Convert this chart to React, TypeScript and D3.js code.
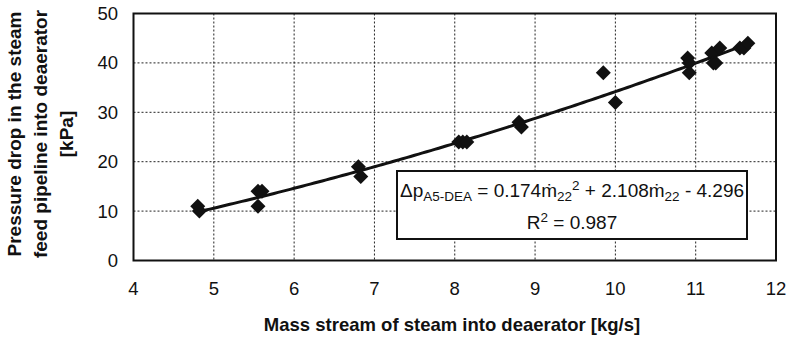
import React from "react";
import * as d3 from "d3";

// ---- Data ----
const massFlow = [
  4.8, 4.82, 5.55, 5.6, 5.55, 6.8, 6.83, 8.05, 8.1, 8.15, 8.8, 8.83,
  9.85, 10.0, 10.9, 10.92, 10.92, 11.2, 11.22, 11.25, 11.3, 11.55, 11.6, 11.65,
];
const pressureDrop = [
  11, 10, 14, 14, 11, 19, 17, 24, 24, 24, 28, 27,
  38, 32, 41, 40, 38, 42, 40, 40, 43, 43, 43, 44,
];
// quadratic trendline coefficients: a*x^2 + b*x + c
const trendCoefs = [0.174, 2.108, -4.296];
const xTicks = [4, 5, 6, 7, 8, 9, 10, 11, 12];
const yTicks = [0, 10, 20, 30, 40, 50];
const yTitleLines = [
  "Pressure drop in the steam",
  "feed pipeline into deaerator",
  "[kPa]",
];
const xTitle = "Mass stream of steam into deaerator [kg/s]";

const W = 791;
const H = 340;
const FONT = "'Liberation Sans', Arial, Helvetica, sans-serif";

export default function App() {
  const x = d3.scaleLinear().domain([4, 12]).range([133.5, 776]);
  const y = d3.scaleLinear().domain([0, 50]).range([260.5, 13.5]);

  const pts = massFlow.map((m, i) => ({ m, p: pressureDrop[i] }));
  const xmin = d3.min(massFlow) as number;
  const xmax = d3.max(massFlow) as number;
  const [a, b, c] = trendCoefs;
  const trend = d3
    .range(xmin, xmax, 0.05)
    .concat([xmax])
    .map((v) => [v, a * v * v + b * v + c] as [number, number]);
  const lineGen = d3
    .line<[number, number]>()
    .x((d) => x(d[0]))
    .y((d) => y(d[1]));

  const [x0, x1] = x.range();
  const [yb, yt] = y.range();
  const diamond = "M0,-7.5L7.5,0L0,7.5L-7.5,0Z";

  return (
    <svg
      width={W}
      height={H}
      style={{ position: "absolute", left: 0, top: 0, background: "#fff" }}
      fontFamily={FONT}
    >
      <rect x={0} y={0} width={W} height={H} fill="#fff" />
      {/* grid */}
      {xTicks.slice(1, -1).map((t) => (
        <line
          key={"gx" + t}
          x1={x(t)}
          x2={x(t)}
          y1={yt}
          y2={yb}
          stroke="#222"
          strokeWidth={1}
          strokeDasharray="2,2"
        />
      ))}
      {yTicks.slice(1, -1).map((t) => (
        <line
          key={"gy" + t}
          x1={x0}
          x2={x1}
          y1={y(t)}
          y2={y(t)}
          stroke="#222"
          strokeWidth={1}
          strokeDasharray="2,2"
        />
      ))}
      {/* equation box */}
      <rect x={397} y={171} width={350} height={68} fill="#fff" stroke="#111" strokeWidth={2} />
      <text x={572} y={197} textAnchor="middle" fontSize={19} fill="#111">
        <tspan>Δp</tspan>
        <tspan fontSize={13.5} dy={4}>A5-DEA</tspan>
        <tspan dy={-4}> = 0.174ṁ</tspan>
        <tspan fontSize={13.5} dy={4}>22</tspan>
        <tspan fontSize={13.5} dy={-11}>2</tspan>
        <tspan dy={7}> + 2.108ṁ</tspan>
        <tspan fontSize={13.5} dy={4}>22</tspan>
        <tspan dy={-4}> - 4.296</tspan>
      </text>
      <text x={572} y={229} textAnchor="middle" fontSize={19} fill="#111">
        <tspan>R</tspan>
        <tspan fontSize={13.5} dy={-7}>2</tspan>
        <tspan dy={7}> = 0.987</tspan>
      </text>
      {/* trendline */}
      <path d={lineGen(trend) || ""} fill="none" stroke="#111" strokeWidth={3} />
      {/* markers */}
      {pts.map((d, i) => (
        <path key={i} d={diamond} transform={`translate(${x(d.m)},${y(d.p)})`} fill="#111" />
      ))}
      {/* frame */}
      <rect x={x0} y={yt} width={x1 - x0} height={yb - yt} fill="none" stroke="#111" strokeWidth={2} />
      {/* y tick labels */}
      {yTicks.map((t) => (
        <text
          key={"yl" + t}
          x={118}
          y={y(t)}
          textAnchor="end"
          dominantBaseline="central"
          fontSize={18.5}
          fill="#111"
        >
          {t}
        </text>
      ))}
      {/* x tick labels */}
      {xTicks.map((t) => (
        <text key={"xl" + t} x={x(t)} y={295} textAnchor="middle" fontSize={18.5} fill="#111">
          {t}
        </text>
      ))}
      {/* axis titles */}
      <text x={452} y={331} textAnchor="middle" fontSize={18.5} fontWeight="bold" fill="#111">
        {xTitle}
      </text>
      {yTitleLines.map((l, i) => (
        <text
          key={"yt" + i}
          transform={`translate(${21 + i * 26},134) rotate(-90)`}
          textAnchor="middle"
          fontSize={19}
          fontWeight="bold"
          fill="#111"
        >
          {l}
        </text>
      ))}
    </svg>
  );
}
